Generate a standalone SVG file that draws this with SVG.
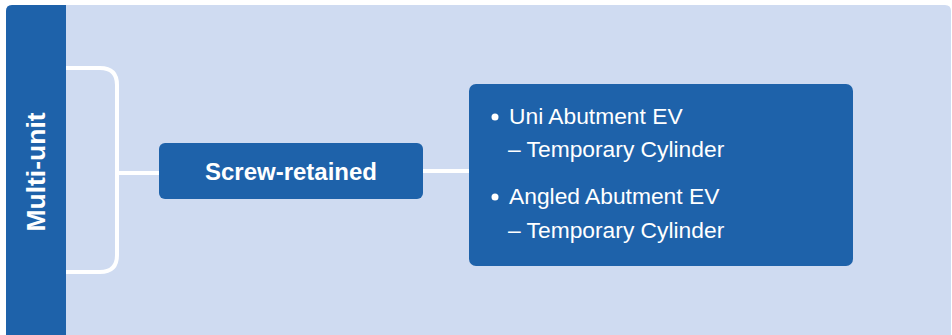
<svg xmlns="http://www.w3.org/2000/svg" width="952" height="335" viewBox="0 0 952 335">
<style>
.dark{fill:#1e62aa}
.conn{fill:none;stroke:#ffffff;stroke-width:4;stroke-linejoin:round}
.lbl{font-family:"Liberation Sans",Arial,sans-serif;fill:#ffffff}
.b{font-weight:bold}
.item{font-size:22.8px}
</style>
<rect x="0" y="0" width="952" height="335" fill="#ffffff"/>
<g id="panel">
<path d="M6 11 Q6 5 12 5 L945 5 Q951 5 951 11 L951 335 L6 335 Z" fill="#cfdbf1"/>
</g>
<g id="multi-unit">
<path class="dark" d="M6 11 Q6 5 12 5 L66 5 L66 335 L6 335 Z"/>
<text class="lbl b" x="0" y="0" font-size="26.5" text-anchor="middle" transform="translate(45 172) rotate(-90)">Multi-unit</text>
</g>
<g id="connectors">
<path class="conn" d="M66 68 L100 68 Q117 68 117 85 L117 255 Q117 272 100 272 L66 272"/>
<line class="conn" x1="117" y1="173" x2="160" y2="173"/>
<line class="conn" x1="423" y1="171" x2="470" y2="171"/>
</g>
<g id="screw-retained">
<rect class="dark" x="159" y="143" width="264" height="56" rx="6"/>
<text class="lbl b" x="291" y="180" font-size="24" text-anchor="middle">Screw-retained</text>
</g>
<g id="components">
<rect class="dark" x="469" y="84" width="384" height="182" rx="7"/>
<circle cx="495" cy="117" r="3.5" fill="#ffffff"/>
<text class="lbl item" x="509" y="124">Uni Abutment EV</text>
<text class="lbl item" x="508" y="157">– Temporary Cylinder</text>
<circle cx="495" cy="197" r="3.5" fill="#ffffff"/>
<text class="lbl item" x="509" y="204">Angled Abutment EV</text>
<text class="lbl item" x="508" y="238">– Temporary Cylinder</text>
</g>
</svg>
